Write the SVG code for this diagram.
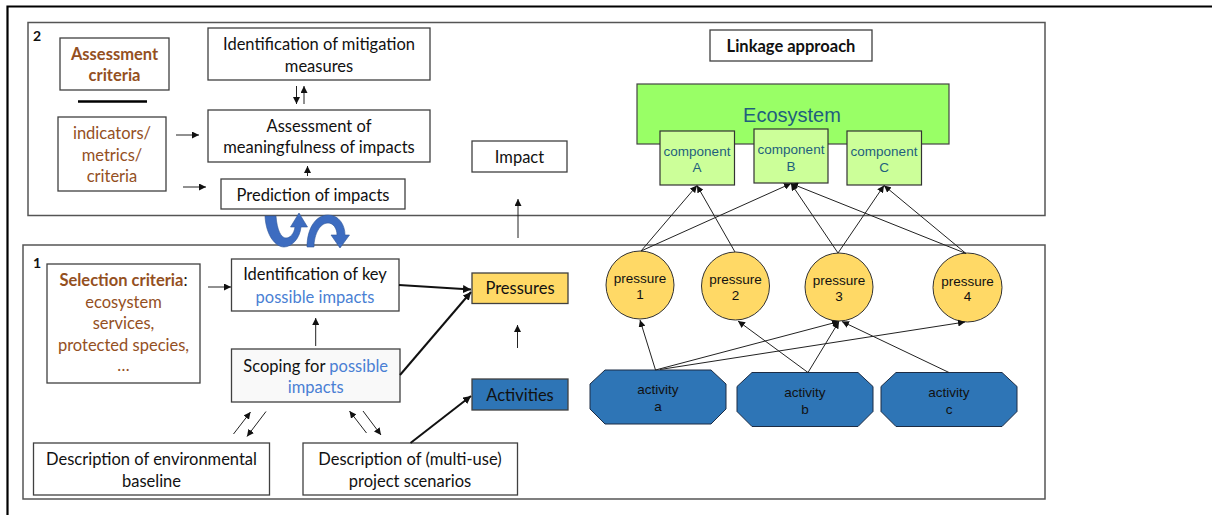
<svg xmlns="http://www.w3.org/2000/svg" width="1212" height="515" viewBox="0 0 1212 515">
<defs>
<style>
.box{fill:#fff;stroke:#404040;stroke-width:1.3}
.panel{fill:#fff;stroke:#555;stroke-width:1.5}
.t{font-family:Lato,"Liberation Sans",sans-serif;font-size:16.5px;fill:#111;text-anchor:middle}
.brown{fill:#94501f}
.blue{fill:#4a7fd4}
.a{font-family:"Liberation Sans",Arial,sans-serif;font-size:13.5px;fill:#111;text-anchor:middle}
.teal{fill:#1f5f7d}
.big{font-size:20px}
.c{fill:none;stroke:#222;stroke-width:1}
.thick{fill:none;stroke:#111;stroke-width:2}
.press{fill:#ffd966;stroke:#333;stroke-width:1}
.act{fill:#2e75b6;stroke:#1c2c44;stroke-width:1}
.comp{fill:#ccff99;stroke:#333;stroke-width:1.2}
.barrow{fill:#3d6cc0;stroke:#2f5597;stroke-width:0.6}
.num{font-family:Lato,"Liberation Sans",sans-serif;font-size:14px;font-weight:bold;fill:#111}
</style>
<marker id="ah" viewBox="0 0 10 10" refX="10" refY="5" markerWidth="7" markerHeight="7" markerUnits="userSpaceOnUse" orient="auto">
<path d="M0,0 L10,5 L0,10 z" fill="#111"/>
</marker>
<marker id="ahb" viewBox="0 0 10 10" refX="10" refY="5" markerWidth="8" markerHeight="8" markerUnits="userSpaceOnUse" orient="auto">
<path d="M0,0 L10,5 L0,10 z" fill="#111"/>
</marker>
</defs>
<rect width="1212" height="515" fill="#fff"/>
<path d="M7.5,515 V6.5 H1212" fill="none" stroke="#000" stroke-width="2.2"/>

<g id="panel2">
<rect class="panel" x="28" y="22.5" width="1017" height="193"/>
<text class="num" x="33" y="41">2</text>
</g>
<g id="panel1">
<rect class="panel" x="23" y="245" width="1022" height="254"/>
<text class="num" x="33" y="268">1</text>
</g>

<g id="assessment-criteria">
<rect class="box" x="60" y="38" width="109" height="52"/>
<text class="t brown" x="114.5" y="59.5" font-weight="bold">Assessment</text>
<text class="t brown" x="114.5" y="81" font-weight="bold">criteria</text>
</g>
<g id="separator"><line x1="78" y1="101.5" x2="147" y2="101.5" stroke="#000" stroke-width="2.5"/></g>
<g id="indicators">
<rect class="box" x="58" y="117" width="108" height="74"/>
<text class="t brown" x="112" y="139">indicators/</text>
<text class="t brown" x="112" y="160.5">metrics/</text>
<text class="t brown" x="112" y="181.5">criteria</text>
</g>
<g id="mitigation">
<rect class="box" x="208" y="28" width="222" height="52"/>
<text class="t" x="319" y="49.5">Identification of mitigation</text>
<text class="t" x="319" y="71.5">measures</text>
</g>
<g id="meaningfulness">
<rect class="box" x="208" y="110" width="222" height="52"/>
<text class="t" x="319" y="131.5">Assessment of</text>
<text class="t" x="319" y="153">meaningfulness of impacts</text>
</g>
<g id="prediction">
<rect class="box" x="221" y="179" width="184" height="30"/>
<text class="t" x="313" y="200.5">Prediction of impacts</text>
</g>
<g id="impact">
<rect class="box" x="472" y="141" width="95" height="31"/>
<text class="t" x="519.5" y="162.5">Impact</text>
</g>
<g id="linkage">
<rect class="box" x="710" y="30" width="162" height="31"/>
<text class="t" x="791" y="51.5" font-weight="bold">Linkage approach</text>
</g>
<g id="ecosystem">
<rect x="637" y="84" width="312" height="60" fill="#99ff66" stroke="#444" stroke-width="1.2"/>
<text class="a teal big" x="792" y="122">Ecosystem</text>
</g>
<g id="componentA">
<rect class="comp" x="660" y="131" width="74.5" height="54"/>
<text class="a teal" x="697" y="155.5">component</text>
<text class="a teal" x="697" y="172">A</text>
</g>
<g id="componentB">
<rect class="comp" x="754" y="129" width="74" height="54"/>
<text class="a teal" x="791" y="154">component</text>
<text class="a teal" x="791" y="171">B</text>
</g>
<g id="componentC">
<rect class="comp" x="847" y="131" width="74.5" height="54"/>
<text class="a teal" x="884" y="155.5">component</text>
<text class="a teal" x="884" y="172">C</text>
</g>

<g id="selection-criteria">
<rect class="box" x="47" y="264" width="153" height="119"/>
<text class="t brown" x="123.5" y="286"><tspan font-weight="bold">Selection criteria</tspan><tspan fill="#111">:</tspan></text>
<text class="t brown" x="123.5" y="307.5">ecosystem</text>
<text class="t brown" x="123.5" y="329">services,</text>
<text class="t brown" x="123.5" y="350.5">protected species,</text>
<text class="t brown" x="123.5" y="371">…</text>
</g>
<g id="key-impacts">
<rect class="box" x="231.5" y="259" width="167.5" height="52"/>
<text class="t" x="315" y="280">Identification of key</text>
<text class="t blue" x="315" y="302.5">possible impacts</text>
</g>
<g id="scoping">
<rect class="box" x="231.5" y="349" width="168.5" height="53" style="fill:#f9f9f9"/>
<text class="t" x="315.7" y="371.5">Scoping for <tspan class="blue">possible</tspan></text>
<text class="t blue" x="315.7" y="393">impacts</text>
</g>
<g id="pressures">
<rect class="box" x="472" y="273" width="96" height="30.5" style="fill:#ffd966"/>
<text class="t" x="520" y="294">Pressures</text>
</g>
<g id="activities">
<rect class="box" x="472" y="379" width="96" height="31" style="fill:#2e75b6"/>
<text class="t" x="520" y="400.5">Activities</text>
</g>
<g id="baseline">
<rect class="box" x="33.5" y="443" width="236" height="52"/>
<text class="t" x="151.5" y="465">Description of environmental</text>
<text class="t" x="151.5" y="486.5">baseline</text>
</g>
<g id="scenarios">
<rect class="box" x="303" y="443" width="214.5" height="52"/>
<text class="t" x="410" y="465">Description of (multi-use)</text>
<text class="t" x="410" y="486.5">project scenarios</text>
</g>

<g id="pressure1"><circle class="press" cx="640" cy="285" r="34"/><text class="a" x="640" y="283">pressure</text><text class="a" x="640" y="298.5">1</text></g>
<g id="pressure2"><circle class="press" cx="735.5" cy="286" r="34"/><text class="a" x="735.5" y="284">pressure</text><text class="a" x="735.5" y="299.5">2</text></g>
<g id="pressure3"><circle class="press" cx="839" cy="287" r="34"/><text class="a" x="839" y="285">pressure</text><text class="a" x="839" y="300.5">3</text></g>
<g id="pressure4"><circle class="press" cx="967.5" cy="287.5" r="34.5"/><text class="a" x="967.5" y="285.5">pressure</text><text class="a" x="967.5" y="301">4</text></g>

<g id="activity-a"><polygon class="act" points="605,370 711,370 726,384 726,409 711,424 605,424 590,409 590,384"/><text class="a" x="658" y="394">activity</text><text class="a" x="658" y="411">a</text></g>
<g id="activity-b"><polygon class="act" points="752,372.5 858,372.5 873,386.5 873,411.5 858,426.5 752,426.5 737,411.5 737,386.5"/><text class="a" x="805" y="396.5">activity</text><text class="a" x="805" y="413.5">b</text></g>
<g id="activity-c"><polygon class="act" points="896,372.5 1002,372.5 1017,386.5 1017,411.5 1002,426.5 896,426.5 881,411.5 881,386.5"/><text class="a" x="949" y="396.5">activity</text><text class="a" x="949" y="413.5">c</text></g>

<g id="connectors">
<line class="c" x1="176" y1="135" x2="199" y2="135" marker-end="url(#ah)"/>
<line class="c" x1="183" y1="187" x2="206" y2="187" marker-end="url(#ah)"/>
<line class="c" x1="296.5" y1="86" x2="296.5" y2="104" marker-end="url(#ah)"/>
<line class="c" x1="304" y1="104" x2="304" y2="86" marker-end="url(#ah)"/>
<line class="c" x1="307.5" y1="176" x2="307.5" y2="166" marker-end="url(#ah)"/>
<line class="c" x1="518" y1="238" x2="518" y2="199" marker-end="url(#ah)"/>
<line class="c" x1="208" y1="287" x2="231" y2="287" marker-end="url(#ah)"/>
<line class="c" x1="315.7" y1="346" x2="315.7" y2="318" marker-end="url(#ah)"/>
<line class="c" x1="517.5" y1="348" x2="517.5" y2="325" marker-end="url(#ah)"/>
<line class="c" x1="233.5" y1="434" x2="250.5" y2="412" marker-end="url(#ah)"/>
<line class="c" x1="266" y1="411.5" x2="247" y2="436.5" marker-end="url(#ah)"/>
<line class="c" x1="366.5" y1="433" x2="349.5" y2="411" marker-end="url(#ah)"/>
<line class="c" x1="363" y1="411" x2="381" y2="435" marker-end="url(#ah)"/>
<line class="thick" x1="399" y1="285" x2="471" y2="289.5" marker-end="url(#ahb)"/>
<line class="thick" x1="400" y1="375" x2="471" y2="292" marker-end="url(#ahb)"/>
<line class="thick" x1="410.5" y1="443" x2="471" y2="396" marker-end="url(#ahb)"/>
<line class="c" x1="641" y1="251" x2="697" y2="185.5" marker-end="url(#ah)"/>
<line class="c" x1="641" y1="251" x2="791" y2="183.5" marker-end="url(#ah)"/>
<line class="c" x1="735" y1="252" x2="697" y2="185.5" marker-end="url(#ah)"/>
<line class="c" x1="838" y1="253" x2="791" y2="183.5" marker-end="url(#ah)"/>
<line class="c" x1="838" y1="253" x2="884" y2="185.5" marker-end="url(#ah)"/>
<line class="c" x1="966" y1="253.5" x2="791" y2="183.5" marker-end="url(#ah)"/>
<line class="c" x1="966" y1="253.5" x2="884" y2="185.5" marker-end="url(#ah)"/>
<line class="c" x1="655.5" y1="370" x2="640" y2="320" marker-end="url(#ah)"/>
<line class="c" x1="655.5" y1="370" x2="839" y2="321.5" marker-end="url(#ah)"/>
<line class="c" x1="660" y1="369.5" x2="965" y2="322" marker-end="url(#ah)"/>
<line class="c" x1="808" y1="372.5" x2="738" y2="321" marker-end="url(#ah)"/>
<line class="c" x1="808" y1="372.5" x2="839" y2="321.5" marker-end="url(#ah)"/>
<line class="c" x1="949" y1="372.5" x2="842" y2="321.5" marker-end="url(#ah)"/>
<path class="barrow" d="M265,216 C266,236 276,247 284,247 C292,247 300,238 301,227 L307.5,227 L299,213 L290.5,227 L295,227 C294,234 290,238 286,238 C281,238 277,230 276,216 Z"/>
<path class="barrow" d="M307,247 C307,228 316,215 328,215 C339,215 345,225 345,235 L349.5,235 L340,248 L331,235 L337,235 C337,228 333,223 328,223 C320,223 314,234 314,247 Z"/>
</g>
</svg>
